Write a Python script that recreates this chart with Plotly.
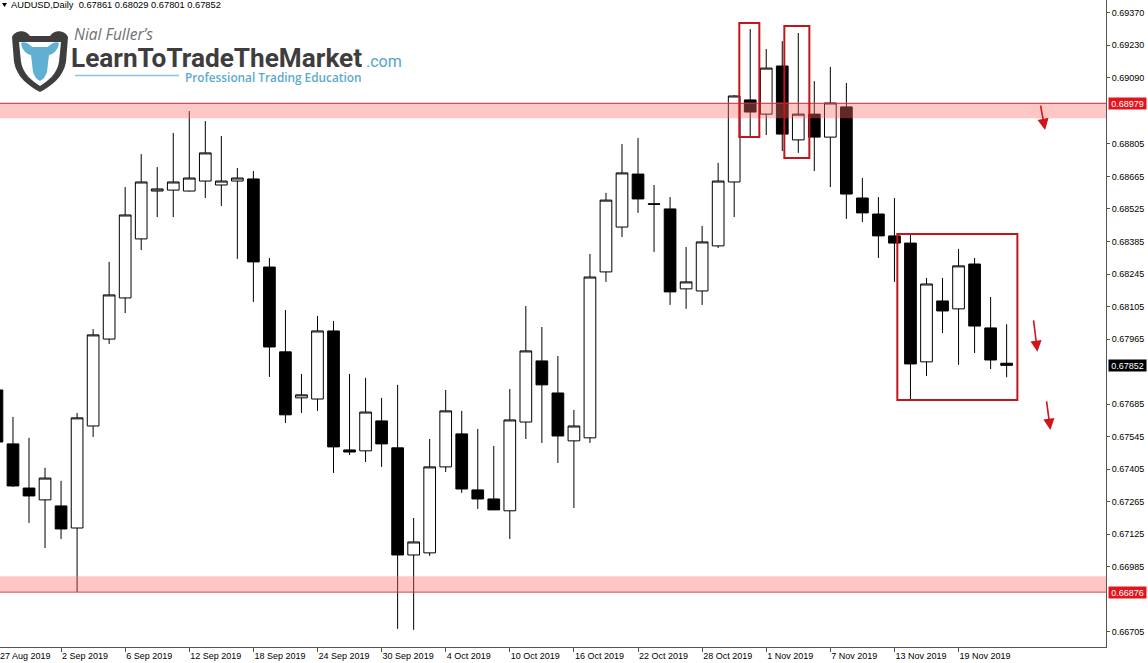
import plotly.graph_objects as go

# ---------------- data ----------------
dates = [
    "27 Aug 2019", "28 Aug 2019", "29 Aug 2019", "30 Aug 2019",
    "2 Sep 2019", "3 Sep 2019", "4 Sep 2019", "5 Sep 2019", "6 Sep 2019",
    "9 Sep 2019", "10 Sep 2019", "11 Sep 2019", "12 Sep 2019", "13 Sep 2019",
    "16 Sep 2019", "17 Sep 2019", "18 Sep 2019", "19 Sep 2019", "20 Sep 2019",
    "23 Sep 2019", "24 Sep 2019", "25 Sep 2019", "26 Sep 2019", "27 Sep 2019",
    "30 Sep 2019", "1 Oct 2019", "2 Oct 2019", "3 Oct 2019", "4 Oct 2019",
    "7 Oct 2019", "8 Oct 2019", "9 Oct 2019", "10 Oct 2019", "11 Oct 2019",
    "14 Oct 2019", "15 Oct 2019", "16 Oct 2019", "17 Oct 2019", "18 Oct 2019",
    "21 Oct 2019", "22 Oct 2019", "23 Oct 2019", "24 Oct 2019", "25 Oct 2019",
    "28 Oct 2019", "29 Oct 2019", "30 Oct 2019", "31 Oct 2019", "1 Nov 2019",
    "4 Nov 2019", "5 Nov 2019", "6 Nov 2019", "7 Nov 2019", "8 Nov 2019",
    "11 Nov 2019", "12 Nov 2019", "13 Nov 2019", "14 Nov 2019", "15 Nov 2019",
    "18 Nov 2019", "19 Nov 2019", "20 Nov 2019", "21 Nov 2019", "22 Nov 2019",
]
open_ = [
    0.67746, 0.67514, 0.67324, 0.67273,
    0.67247, 0.67152, 0.67591, 0.67965, 0.68142,
    0.68396, 0.68602, 0.68606, 0.68602, 0.68645,
    0.68628, 0.68645, 0.68654, 0.68275, 0.67910,
    0.67712, 0.67707, 0.68000, 0.67488, 0.67484,
    0.67613, 0.67497, 0.67036, 0.67045, 0.67415,
    0.67557, 0.67316, 0.67277, 0.67226, 0.67608,
    0.67871, 0.67733, 0.67527, 0.67540, 0.68254,
    0.68447, 0.68675, 0.68547, 0.68525, 0.68181,
    0.68172, 0.68366, 0.68641, 0.68994, 0.68933,
    0.69140, 0.68822, 0.68933, 0.68834, 0.68964,
    0.68572, 0.68503, 0.68409, 0.68378, 0.67867,
    0.68129, 0.68095, 0.68288, 0.68013, 0.67861,
]
high = [
    0.67768, 0.67630, 0.67540, 0.67411,
    0.67355, 0.67647, 0.68008, 0.68297, 0.68619,
    0.68761, 0.68705, 0.68852, 0.68946, 0.68903,
    0.68839, 0.68701, 0.68688, 0.68314, 0.68090,
    0.67815, 0.68064, 0.68043, 0.67815, 0.67798,
    0.67712, 0.67768, 0.67195, 0.67535, 0.67746,
    0.67656, 0.67578, 0.67505, 0.67750, 0.68107,
    0.68017, 0.67892, 0.67660, 0.68331, 0.68594,
    0.68804, 0.68830, 0.68628, 0.68576, 0.68361,
    0.68452, 0.68723, 0.69015, 0.69299, 0.69213,
    0.69247, 0.69282, 0.69075, 0.69136, 0.69067,
    0.68658, 0.68576, 0.68572, 0.68413, 0.68228,
    0.68228, 0.68353, 0.68314, 0.68146, 0.68029,
]
low = [
    0.67509, 0.67329, 0.67174, 0.67066,
    0.67105, 0.66877, 0.67544, 0.67944, 0.68077,
    0.68348, 0.68490, 0.68490, 0.68600, 0.68572,
    0.68538, 0.68310, 0.68125, 0.67802, 0.67604,
    0.67647, 0.67656, 0.67389, 0.67466, 0.67436,
    0.67415, 0.66718, 0.66714, 0.67032, 0.67393,
    0.67303, 0.67234, 0.67230, 0.67105, 0.67535,
    0.67518, 0.67432, 0.67238, 0.67518, 0.68211,
    0.68404, 0.68508, 0.68340, 0.68112, 0.68095,
    0.68112, 0.68357, 0.68490, 0.68834, 0.68843,
    0.68774, 0.68766, 0.68688, 0.68619, 0.68482,
    0.68469, 0.68314, 0.68211, 0.67703, 0.67806,
    0.67991, 0.67854, 0.67905, 0.67836, 0.67801,
]
close = [
    0.67522, 0.67333, 0.67290, 0.67367,
    0.67148, 0.67626, 0.67983, 0.68155, 0.68499,
    0.68641, 0.68611, 0.68641, 0.68658, 0.68766,
    0.68645, 0.68658, 0.68297, 0.67931, 0.67639,
    0.67725, 0.68000, 0.67501, 0.67479, 0.67651,
    0.67514, 0.67036, 0.67092, 0.67415, 0.67656,
    0.67320, 0.67277, 0.67230, 0.67617, 0.67914,
    0.67768, 0.67548, 0.67591, 0.68232, 0.68563,
    0.68680, 0.68568, 0.68545, 0.68168, 0.68211,
    0.68383, 0.68645, 0.69011, 0.68942, 0.69131,
    0.68847, 0.68933, 0.68834, 0.68981, 0.68589,
    0.68508, 0.68409, 0.68378, 0.67858, 0.68202,
    0.68086, 0.68280, 0.68021, 0.67875, 0.67852,
]

ytick_vals = [0.69370, 0.69230, 0.69090, 0.68805, 0.68665, 0.68525,
              0.68385, 0.68245, 0.68105, 0.67965, 0.67685, 0.67545,
              0.67405, 0.67265, 0.67125, 0.66985, 0.66705]
ytick_text = ["%.5f" % v for v in ytick_vals]
xtick_dates = ["2 Sep 2019", "6 Sep 2019", "12 Sep 2019", "18 Sep 2019",
               "24 Sep 2019", "30 Sep 2019", "4 Oct 2019", "10 Oct 2019",
               "16 Oct 2019", "22 Oct 2019", "28 Oct 2019", "1 Nov 2019",
               "7 Nov 2019", "13 Nov 2019", "19 Nov 2019"]
first_date_label = "27 Aug 2019"

header_text = "AUDUSD,Daily  0.67861 0.68029 0.67801 0.67852"

resistance_level = 0.68979
resistance_zone = [0.68915, 0.68984]
support_level = 0.66876
support_zone = [0.66876, 0.66944]
last_close = 0.67852

# highlight boxes: [x0, x1, y0, y1] in (bar index, price)
highlight_boxes = [
    [46.32, 47.57, 0.68834, 0.69325],
    [49.13, 50.69, 0.68744, 0.69312],
    [56.18, 63.67, 0.67703, 0.68417],
]
# arrows: [tail_x, tail_y, head_x, head_y]
down_arrows = [
    [65.10, 0.68976, 65.40, 0.68865],
    [64.67, 0.68052, 64.92, 0.67910],
    [65.48, 0.67703, 65.73, 0.67574],
]

x_range = [0.19, 69.2]
y_range = [0.66640, 0.69424]

# ---------------- figure ----------------
AX_FONT = "Liberation Sans, Arial, sans-serif"
W, H = 1148, 663
ML, MR, MT, MB = 0, 42, 0, 16
PW, PH = W - ML - MR, H - MT - MB

fig = go.Figure()
fig.add_trace(go.Candlestick(
    x=dates, open=open_, high=high, low=low, close=close,
    increasing=dict(line=dict(color="#000000", width=1), fillcolor="#ffffff"),
    decreasing=dict(line=dict(color="#000000", width=1), fillcolor="#000000"),
    whiskerwidth=0, showlegend=False, hoverinfo="x+y",
))

shapes = []
shapes.append(dict(type="rect", xref="paper", x0=0, x1=1, yref="y",
                   y0=resistance_zone[0], y1=resistance_zone[1],
                   fillcolor="rgba(255,105,105,0.38)", line=dict(width=0), layer="above"))
shapes.append(dict(type="rect", xref="paper", x0=0, x1=1, yref="y",
                   y0=support_zone[0], y1=support_zone[1],
                   fillcolor="rgba(255,105,105,0.38)", line=dict(width=0), layer="above"))
for lvl in (resistance_level, support_level):
    shapes.append(dict(type="line", xref="paper", x0=0, x1=1, yref="y", y0=lvl, y1=lvl,
                       line=dict(color="rgba(190,50,50,0.85)", width=1), layer="above"))
for b in highlight_boxes:
    shapes.append(dict(type="rect", xref="x", yref="y", x0=b[0], x1=b[1], y0=b[2], y1=b[3],
                       line=dict(color="#c0161c", width=2), fillcolor="rgba(0,0,0,0)",
                       layer="above"))


def logo_path(pts, close_path=True):
    s = "M %s,%s " % (pts[0][0], -pts[0][1])
    for p in pts[1:]:
        if len(p) == 6:
            s += "C %s,%s %s,%s %s,%s " % (p[0], -p[1], p[2], -p[3], p[4], -p[5])
        else:
            s += "L %s,%s " % (p[0], -p[1])
    return s + ("Z" if close_path else "")


def pixel_shape(path, fill, line_color=None, lw=0):
    return dict(type="path", xref="paper", yref="paper", xsizemode="pixel", ysizemode="pixel",
                xanchor=0, yanchor=1, path=path, fillcolor=fill,
                line=dict(color=line_color or fill, width=lw), layer="above")


shapes.append(pixel_shape(logo_path([(2, 3), (7, 3), (4.5, 7)]), "#000000"))
outer = [(12, 37), (15, 30, 26, 29, 30, 36), (50, 36), (54, 29, 65, 30, 68, 37),
         (66, 62), (63, 78, 51, 86, 40, 92), (29, 86, 17, 78, 14, 62)]
inner = [(19, 42), (61, 42), (59, 62), (57, 74, 48, 81, 40, 86), (32, 81, 23, 74, 21, 62)]
head = [(21, 43), (26, 40, 30, 46, 33, 47), (47, 47), (50, 46, 54, 40, 59, 43),
        (58, 50, 54, 54, 49, 55), (47, 72), (45, 78, 42, 80, 40, 81),
        (38, 80, 35, 78, 33, 72), (31, 55), (26, 54, 22, 50, 21, 43)]
shapes.append(pixel_shape(logo_path(outer), "#3e3e3e"))
shapes.append(pixel_shape(logo_path(inner), "#ffffff"))
shapes.append(pixel_shape(logo_path(head), "#5fb0d2"))
shapes.append(pixel_shape("M 75,-75.5 L 179,-75.5", "rgba(0,0,0,0)", "#8cc4dc", 1.5))

annotations = []


def px_ann(text, x, y, size, color, family, weight="normal", style="normal"):
    annotations.append(dict(text=text, xref="paper", yref="paper",
                            x=(x - ML) / PW, y=1 - (y - MT) / PH,
                            xanchor="left", yanchor="middle", showarrow=False,
                            borderpad=0,
                            font=dict(size=size, color=color, family=family,
                                      weight=weight, style=style)))


px_ann(header_text, 10, 5.5, 9.3, "#000000", AX_FONT)
px_ann("Nial Fuller\u2019s", 73, 34, 15.5, "#707070", "Open Sans", style="italic")
px_ann("LearnToTradeTheMarket", 70, 58, 26.2, "#3d3d3d", "Roboto", weight="bold")
px_ann(".com", 365, 62, 16, "#4fa5cb", "Roboto")
px_ann("Professional Trading Education", 184, 76.5, 11.8, "#5aaacd", "Open Sans", weight=600)

annotations.append(dict(text=first_date_label, xref="paper", x=0, xanchor="left", xshift=-2,
                        yref="paper", y=0, yanchor="top", yshift=-2, showarrow=False,
                        font=dict(size=9, color="#000000", family=AX_FONT)))

for val, bg in ((resistance_level, "#e3141c"), (last_close, "#000000"), (support_level, "#e3141c")):
    annotations.append(dict(text="%.5f" % val, xref="paper", x=1, xanchor="left", xshift=2,
                            yref="y", y=val, yanchor="middle", showarrow=False,
                            bgcolor=bg, width=37, height=11, borderpad=0,
                            font=dict(size=9, color="#ffffff", family=AX_FONT)))

for a in down_arrows:
    annotations.append(dict(text="", xref="x", yref="y", x=a[2], y=a[3],
                            axref="x", ayref="y", ax=a[0], ay=a[1], showarrow=True,
                            arrowhead=2, arrowsize=1.4, arrowwidth=1.6,
                            arrowcolor="#d0141a", standoff=0))

fig.update_layout(
    template="none",
    width=W, height=H,
    margin=dict(l=ML, r=MR, t=MT, b=MB, pad=0),
    paper_bgcolor="#ffffff", plot_bgcolor="#ffffff",
    font=dict(family=AX_FONT, size=9, color="#000000"),
    boxgap=0.27, boxgroupgap=0,
    showlegend=False,
    shapes=shapes, annotations=annotations,
    xaxis=dict(type="category", range=x_range, rangeslider=dict(visible=False),
               showgrid=False, zeroline=False, showline=True, linecolor="#555555",
               linewidth=1, ticks="outside", ticklen=4, tickcolor="#555555",
               tickvals=xtick_dates, ticktext=xtick_dates,
               ticklabelposition="outside right", automargin=False,
               tickfont=dict(size=9, color="#000000", family=AX_FONT)),
    yaxis=dict(side="right", range=y_range, showgrid=False, zeroline=False,
               showline=True, linecolor="#555555", linewidth=1,
               ticks="outside", ticklen=3, tickcolor="#555555",
               tickvals=ytick_vals, ticktext=ytick_text, automargin=False,
               tickfont=dict(size=9, color="#000000", family=AX_FONT)),
)

fig.write_html("out.html", config={"displayModeBar": False},
               post_script="document.body.style.margin='0px';document.body.style.overflow='hidden';")
